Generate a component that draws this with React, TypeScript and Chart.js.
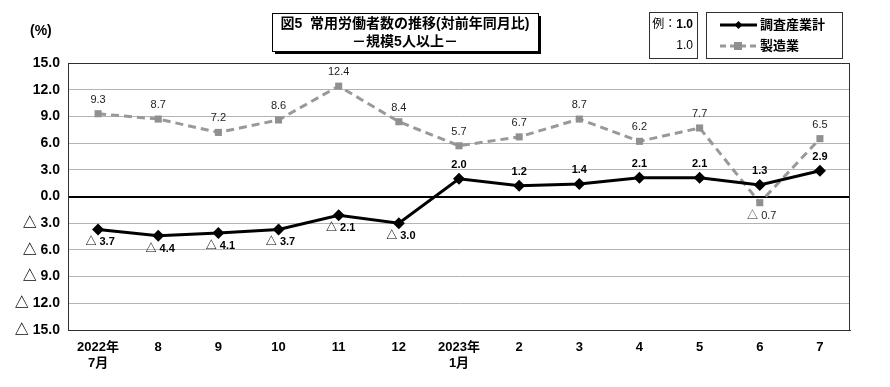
import React, { useEffect, useRef } from "react";
import { Chart, registerables } from "chart.js";

Chart.register(...registerables);

const categories: string[][] = [
  ["2022年", "7月"], ["8"], ["9"], ["10"], ["11"], ["12"],
  ["2023年", "1月"], ["2"], ["3"], ["4"], ["5"], ["6"], ["7"],
];
const totalSeries: number[] = [-3.7, -4.4, -4.1, -3.7, -2.1, -3.0, 2.0, 1.2, 1.4, 2.1, 2.1, 1.3, 2.9];
const mfgSeries: number[] = [9.3, 8.7, 7.2, 8.6, 12.4, 8.4, 5.7, 6.7, 8.7, 6.2, 7.7, -0.7, 6.5];
const seriesNames = ["調査産業計", "製造業"];
const titleLines = ["図5  常用労働者数の推移(対前年同月比)", "－規模5人以上－"];

const fmt = (v: number) => (v < 0 ? "△ " + Math.abs(v).toFixed(1) : v.toFixed(1));

const JP = '"Liberation Sans", "Noto Sans CJK JP", sans-serif';
const NARROW = '"Liberation Sans Narrow", "Liberation Sans", "Noto Sans CJK JP", sans-serif';

const decorPlugin = {
  id: "decor",
  afterDatasetsDraw(chart: any) {
    const ctx = chart.ctx;
    const area = chart.chartArea;
    ctx.save();
    // plot border
    ctx.strokeStyle = "#303030";
    ctx.lineWidth = 1;
    ctx.strokeRect(area.left + 0.5, area.top + 0.5, area.right - area.left - 1, area.bottom - area.top);

    // data labels
    chart.data.datasets.forEach((ds: any, di: number) => {
      const meta = chart.getDatasetMeta(di);
      meta.data.forEach((pt: any, i: number) => {
        const v = ds.data[i];
        const txt = fmt(v);
        ctx.textAlign = "center";
        ctx.textBaseline = "middle";
        if (di === 0) {
          ctx.font = "bold 11px " + NARROW;
          ctx.fillStyle = "#000";
        } else {
          ctx.font = "11px " + NARROW;
          ctx.fillStyle = "#222";
        }
        const y = v >= 0 ? pt.y - 14 : pt.y + 13;
        const x = v >= 0 ? pt.x : pt.x + 2;
        ctx.fillText(txt, x, y);
      });
    });

    // (%)
    ctx.font = "bold 14px " + JP;
    ctx.fillStyle = "#000";
    ctx.textAlign = "left";
    ctx.textBaseline = "middle";
    ctx.fillText("(%)", 30, 31);

    // title box with shadow
    const tx = 272, ty = 13, tw = 266, th = 38;
    ctx.fillStyle = "#000";
    ctx.fillRect(tx + 3, ty + 3, tw, th);
    ctx.fillStyle = "#fff";
    ctx.fillRect(tx, ty, tw, th);
    ctx.strokeStyle = "#000";
    ctx.lineWidth = 1;
    ctx.strokeRect(tx + 0.5, ty + 0.5, tw, th);
    ctx.fillStyle = "#000";
    ctx.font = "bold 14px " + JP;
    ctx.textAlign = "center";
    ctx.fillText(titleLines[0], tx + tw / 2, ty + 11);
    ctx.fillText(titleLines[1], tx + tw / 2, ty + 29);

    // example box
    ctx.strokeStyle = "#303030";
    ctx.strokeRect(649.5, 12.5, 48, 46);
    ctx.textAlign = "right";
    ctx.font = "bold 12px " + JP;
    ctx.fillText("1.0", 693, 25);
    const w1 = ctx.measureText("1.0").width;
    ctx.font = "12px " + JP;
    ctx.fillText("例：", 693 - w1, 25);
    ctx.fillText("1.0", 693, 46);

    // legend box
    ctx.strokeRect(706.5, 12.5, 136, 46);
    ctx.strokeStyle = "#000";
    ctx.lineWidth = 3;
    ctx.beginPath();
    ctx.moveTo(720, 25);
    ctx.lineTo(757, 25);
    ctx.stroke();
    ctx.fillStyle = "#000";
    ctx.beginPath();
    ctx.moveTo(738.5, 21);
    ctx.lineTo(742.5, 25);
    ctx.lineTo(738.5, 29);
    ctx.lineTo(734.5, 25);
    ctx.closePath();
    ctx.fill();
    ctx.strokeStyle = "#999";
    ctx.setLineDash([6, 4]);
    ctx.beginPath();
    ctx.moveTo(720, 46);
    ctx.lineTo(757, 46);
    ctx.stroke();
    ctx.setLineDash([]);
    ctx.fillStyle = "#909090";
    ctx.fillRect(734, 42, 8, 8);
    ctx.fillStyle = "#000";
    ctx.font = "bold 13px " + JP;
    ctx.textAlign = "left";
    ctx.fillText(seriesNames[0], 760, 25);
    ctx.fillText(seriesNames[1], 760, 46);
    ctx.restore();
  },
};

export default function App() {
  const ref = useRef<HTMLCanvasElement>(null);
  useEffect(() => {
    if (!ref.current) return;
    const chart = new Chart(ref.current, {
      type: "line",
      data: {
        labels: categories,
        datasets: [
          {
            label: seriesNames[0],
            data: totalSeries,
            borderColor: "#000",
            backgroundColor: "#000",
            borderWidth: 3,
            pointStyle: "rectRot",
            pointRadius: 6,
            pointBorderWidth: 0,
            tension: 0,
          },
          {
            label: seriesNames[1],
            data: mfgSeries,
            borderColor: "#999",
            backgroundColor: "#909090",
            borderWidth: 3,
            borderDash: [8, 5],
            pointStyle: "rect",
            pointRadius: 5,
            pointBorderWidth: 0,
            tension: 0,
          },
        ],
      },
      options: {
        animation: false,
        responsive: false,
        maintainAspectRatio: false,
        layout: { padding: { top: 63, right: 40, left: 0, bottom: 0 } },
        plugins: { legend: { display: false }, tooltip: { enabled: false }, title: { display: false } },
        scales: {
          x: {
            offset: true,
            grid: { display: false, drawTicks: false },
            border: { color: "#303030", width: 1 },
            ticks: {
              color: "#000",
              font: { family: NARROW, size: 13, weight: "bold" },
              padding: 10,
              maxRotation: 0,
              autoSkip: false,
            },
            afterFit: (axis: any) => { axis.height = 57; },
          },
          y: {
            min: -15,
            max: 15,
            grid: {
              drawTicks: false,
              color: (c: any) => (c.tick && c.tick.value === 0 ? "#000" : "#b4b4b4"),
              lineWidth: (c: any) => (c.tick && c.tick.value === 0 ? 2 : 1),
            },
            border: { color: "#000", width: 1 },
            ticks: {
              stepSize: 3,
              color: "#000",
              padding: 8,
              font: { family: JP, size: 14, weight: "bold" },
              callback: (v: any) => fmt(Number(v)),
            },
            afterFit: (axis: any) => { axis.width = 68; },
          },
        },
      },
      plugins: [decorPlugin],
    });
    return () => chart.destroy();
  }, []);
  return (
    <div style={{ position: "fixed", left: 0, top: 0, width: 890, height: 387, background: "#fff" }}>
      <canvas ref={ref} width={890} height={387} style={{ width: 890, height: 387 }} />
    </div>
  );
}
